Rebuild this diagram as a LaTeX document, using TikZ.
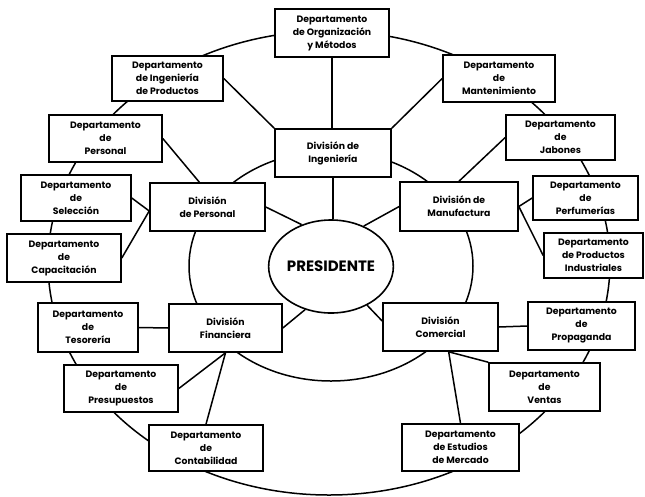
\documentclass[tikz,border=0pt]{standalone}
\usepackage{fontspec}
\setmainfont{Poppins}
\usetikzlibrary{shapes.geometric,calc}
\begin{document}
\begin{tikzpicture}[x=1pt,y=-1pt,
  line width=1.5pt,
  unit/.style={draw, fill=white, rectangle, align=center, inner sep=0pt,
    line width=1.6pt,
    font=\fontsize{9.3}{13}\selectfont\bfseries},
  chief/.style={draw, fill=white, ellipse, inner sep=0pt,
    minimum width=115pt, minimum height=93pt, line width=1.6pt,
    font=\fontsize{15}{16}\selectfont\bfseries},
  link/.style={line width=1.5pt}]
\useasboundingbox (0,0) rectangle (645,496);

% outer and inner rings
\draw (329,263) ellipse [x radius=281pt, y radius=232pt];
\draw (331,266) ellipse [x radius=142pt, y radius=115pt];

% president
\node[chief] (pres) at (331,266.5) {PRESIDENTE};

% divisions
\node[unit, minimum width=116pt, minimum height=48pt] (ingdiv)  at (333,153)   {División de\\Ingeniería};
\node[unit, minimum width=115pt, minimum height=48pt] (persdiv) at (207.5,207) {División\\de Personal};
\node[unit, minimum width=118pt, minimum height=49pt] (manuf)   at (459,206.5) {División de\\Manufactura};
\node[unit, minimum width=113pt, minimum height=48pt] (fin)     at (225.5,328) {División\\Financiera};
\node[unit, minimum width=115pt, minimum height=48pt] (com)     at (440.5,327) {División\\Comercial};

% departments
\node[unit, minimum width=114pt, minimum height=48pt] (org)     at (332,33)     {Departamento\\de Organización\\y Métodos};
\node[unit, minimum width=111pt, minimum height=45pt] (ingprod) at (167.5,78.5) {Departamento\\de Ingeniería\\de Productos};
\node[unit, minimum width=113pt, minimum height=47pt] (persdep) at (105.5,138.5){Departamento\\de\\Personal};
\node[unit, minimum width=110pt, minimum height=46pt] (sel)     at (76,198)     {Departamento\\de\\Selección};
\node[unit, minimum width=114pt, minimum height=48pt] (cap)     at (64,258)     {Departamento\\de\\Capacitación};
\node[unit, minimum width=112pt, minimum height=47pt] (mant)    at (499,78.5)   {Departamento\\de\\Mantenimiento};
\node[unit, minimum width=109pt, minimum height=45pt] (jab)     at (560.5,137.5){Departamento\\de\\Jabones};
\node[unit, minimum width=105pt, minimum height=44pt] (perf)    at (585.5,198)  {Departamento\\de\\Perfumerías};
\node[unit, minimum width=99pt,  minimum height=45pt] (pind)    at (593.5,255.5){Departamento\\de Productos\\Industriales};
\node[unit, minimum width=100pt, minimum height=49pt] (tes)     at (88,327.5)   {Departamento\\de\\Tesorería};
\node[unit, minimum width=114pt, minimum height=47pt] (presup)  at (121,388.5)  {Departamento\\de\\Presupuestos};
\node[unit, minimum width=114pt, minimum height=46pt] (cont)    at (206,448)    {Departamento\\de\\Contabilidad};
\node[unit, minimum width=107pt, minimum height=48pt] (prop)    at (581.5,326)  {Departamento\\de\\Propaganda};
\node[unit, minimum width=111pt, minimum height=48pt] (ventas)  at (544.5,387)  {Departamento\\de\\Ventas};
\node[unit, minimum width=117pt, minimum height=47pt] (estud)   at (460.5,447.5){Departamento\\de Estudios\\de Mercado};

% president to divisions
\draw[link] (ingdiv.south) -- (ingdiv.south |- pres.north);
\draw[link] (pres.125) -- (persdiv.east);
\draw[link] (pres.51) -- (manuf.west);
\draw[link] (pres.239) -- (fin.east);
\draw[link] (pres.313) -- ($(com.west)+(0,-6)$);

% engineering
\draw[link] (org.south) -- (org.south |- ingdiv.north);
\draw[link] (ingprod.east) -- (ingdiv.north west);
\draw[link] (mant.west) -- (ingdiv.north east);

% personnel
\draw[link] (persdep.east) -- ($(persdiv.north west)!0.43!(persdiv.north east)$);
\draw[link] (sel.east) -- ($(persdiv.west)+(0,4)$);
\draw[link] (cap.east) -- ($(persdiv.west)+(0,4)$);

% manufacturing
\draw[link] (jab.west) -- (manuf.north);
\draw[link] (perf.west) -- (manuf.east);
\draw[link] (manuf.east) -- (pind.west);

% finance
\draw[link] (tes.east) -- (fin.west);
\draw[link] (presup.east) -- (fin.south);
\draw[link] (fin.south) -- (cont.north);

% commerce
\coordinate (comfoot) at ($(com.south west)!0.57!(com.south east)$);
\draw[link] (com.east) -- (prop.west);
\draw[link] (comfoot) -- (ventas.north west);
\draw[link] (comfoot) -- (estud.north);
\end{tikzpicture}
\end{document}
